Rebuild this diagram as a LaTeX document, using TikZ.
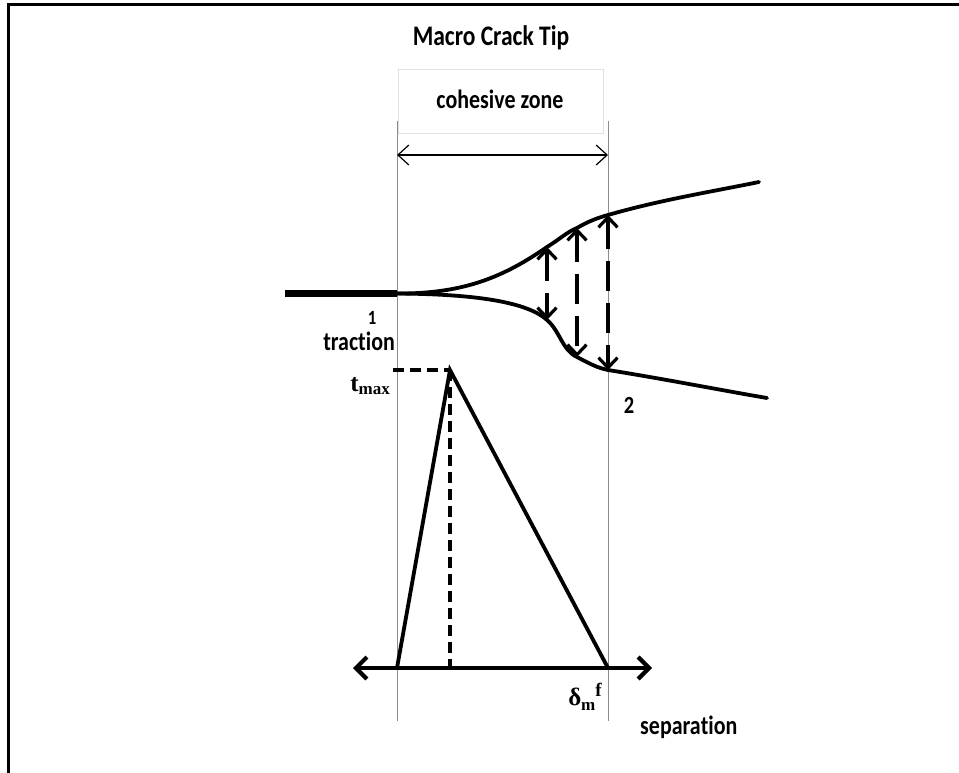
\documentclass[tikz,border=0pt]{standalone}
\usepackage{fontspec}
\setmainfont[Ligatures=NoCommon]{Carlito}
\newfontfamily\serifb{Liberation Serif}
\usetikzlibrary{arrows.meta}
\newcommand{\tall}[1]{\scalebox{0.93}[1.12]{#1}}
\begin{document}
\begin{tikzpicture}[x=1pt,y=-1pt,
  lbl/.style={font=\bfseries\fontsize{23.6}{26}\selectfont, inner sep=0pt},
  sym/.style={font=\serifb\bfseries\fontsize{25}{26}\selectfont, inner sep=0pt},
  guide/.style={draw=black!45, line width=0.9pt},
  thick curve/.style={line width=3.8pt, line cap=round},
  gap arrow/.style={line width=3.2pt, dash pattern=on 30pt off 12pt, {Straight Barb[length=10pt,width=19pt]}-{Straight Barb[length=10pt,width=19pt]}},
  dsh/.style={line width=3.6pt, dash pattern=on 11pt off 6pt}]
\useasboundingbox (0,0) rectangle (959,773);
% frame
\draw[line width=3pt] (8,773) -- (8,5) -- (959,5);
% titles
\node[lbl, font=\bfseries\fontsize{25.3}{28}\selectfont] (title) at (491,38) {\tall{Macro Crack Tip}};
\node[draw=black!12, line width=0.8pt, minimum width=205pt, minimum height=64pt, inner sep=0pt] (czbox) at (500.5,101) {};
\node[lbl] (cz) at (500,99) {\tall{cohesive zone}};
% guide lines
\coordinate (g1t) at (397,121);
\coordinate (g1b) at (397,721);
\coordinate (g2t) at (608,121);
\coordinate (g2b) at (608,721);
\draw[guide] (g1t) -- (g1b);
\draw[guide] (g2t) -- (g2b);
% cohesive zone arrow
\coordinate (za) at (397,155);
\coordinate (zb) at (608,155);
\draw[line width=1.2pt, {Straight Barb[length=11pt,width=20pt]}-{Straight Barb[length=11pt,width=20pt]}] (za) -- (zb);
% crack
\coordinate (c0) at (285,293.5);
\coordinate (tip) at (397,293.5);
\draw[line width=7.5pt] (c0) -- (tip);
\coordinate (u1) at (547,247);
\coordinate (u2) at (577,228);
\coordinate (u3) at (608,215);
\coordinate (u4) at (759,182);
\coordinate (l1) at (547,320);
\coordinate (l2) at (577,357);
\coordinate (l3) at (608,370);
\coordinate (l4) at (767,398);
\draw[thick curve] (tip) .. controls (465,294) and (505,276) .. (u1)
  .. controls (560,239) and (567,232) .. (u2)
  .. controls (587,222) and (597,218) .. (u3)
  .. controls (660,200) and (710,192) .. (u4);
\draw[thick curve] (tip) .. controls (465,294) and (525,300) .. (l1)
  .. controls (560,331) and (562,350) .. (l2)
  .. controls (590,364) and (598,368) .. (l3)
  .. controls (670,380) and (720,390) .. (l4);
\draw[gap arrow] (u1) -- (l1);
\draw[gap arrow] (u2) -- (l2);
\draw[gap arrow] (u3) -- (l3);
% labels on crack
\node[font=\bfseries\fontsize{18}{19}\selectfont, inner sep=0pt] (n1) at (372,318) {\tall{1}};
\node[lbl, anchor=east] (trac) at (395,341) {\tall{trac\kern0pt tion}};
\node[font=\bfseries\fontsize{22}{24}\selectfont, inner sep=0pt] (n2) at (629,405) {\tall{2}};
% traction-separation law
\coordinate (peak) at (450,370);
\coordinate (o) at (397,668);
\coordinate (df) at (608,668);
\coordinate (pk0) at (393,370);
\coordinate (pkb) at (450,668);
\coordinate (axl) at (353,668);
\coordinate (axr) at (652,668);
\draw[dsh] (pk0) -- (peak);
\draw[dsh] (peak) -- (pkb);
\draw[line width=3.8pt, line join=miter] (o) -- (peak) -- (df);
\draw[line width=4.2pt, {Straight Barb[length=11pt,width=22pt]}-{Straight Barb[length=11pt,width=22pt]}] (axl) -- (axr);
\node[sym, anchor=east] (tmax) at (390,386) {t\raisebox{-0.3ex}{\fontsize{17}{18}\selectfont max}};
\node[sym] (delta) at (585,697) {δ\raisebox{-0.4ex}{\fontsize{17}{18}\selectfont m}\raisebox{0.8ex}{\fontsize{19}{20}\selectfont f}};
\node[lbl, anchor=west] (sep) at (640,727) {\tall{separa\kern0pt tion}};
\end{tikzpicture}
\end{document}
